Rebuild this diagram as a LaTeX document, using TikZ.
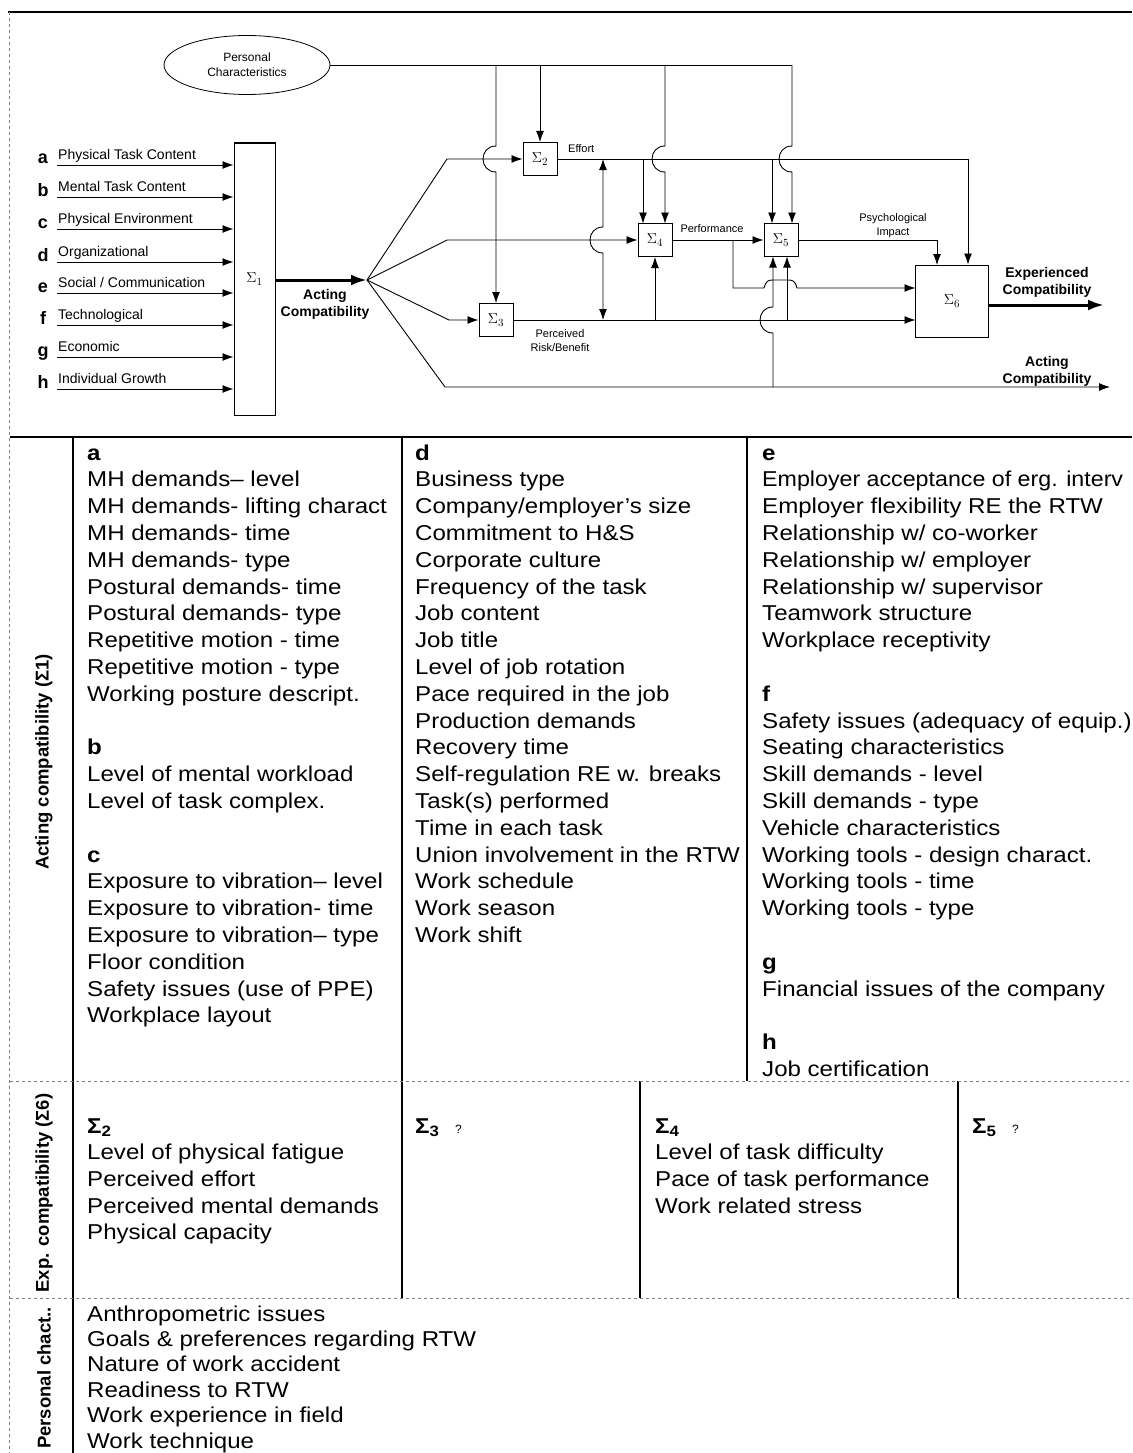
\documentclass[tikz,border=0pt]{standalone}
\usepackage{fontspec}
\setmainfont{Liberation Sans}
\newfontfamily\tabfont[FakeStretch=1.12]{Liberation Sans}
\newfontfamily\tabfontn[FakeStretch=1.08]{Liberation Sans}
\usetikzlibrary{arrows.meta,shapes.geometric}
\newcommand{\socialcom}{Social / Communication}
\begin{document}
\begin{tikzpicture}[x=1pt,y=-1pt,
  every node/.style={inner sep=0pt},
  ln/.style={line width=0.9pt},
  arr/.style={ln,-{Latex[length=11pt,width=8pt]}},
  dblarr/.style={ln,{Latex[length=11pt,width=8pt]}-{Latex[length=11pt,width=8pt]}},
  bigarr/.style={line width=3pt,-{Latex[length=16pt,width=11pt]}},
  sbox/.style={draw,line width=1pt,minimum width=34pt,minimum height=33pt,font=\fontsize{15}{15}\selectfont},
  small/.style={font=\fontsize{11}{14}\selectfont,align=center},
  boldlbl/.style={font=\bfseries\fontsize{14}{17}\selectfont,align=center},
  inlbl/.style={font=\fontsize{14}{14}\selectfont,anchor=base west},
  letter/.style={font=\bfseries\fontsize{18}{18}\selectfont,anchor=base},
  tab/.style={font=\tabfont\fontsize{21.5}{25}\selectfont,anchor=base west},
  rowlbl/.style={font=\bfseries\fontsize{18.5}{18.5}\selectfont,rotate=90},
  rulebk/.style={line width=1.6pt},
  sepln/.style={line width=1pt,gray,dashed},
]
\useasboundingbox (0,0) rectangle (1132,1453);
\fill[white] (0,0) rectangle (1132,1453);

% ---------- frame ----------
\draw[line width=2pt] (8,12) -- (1132,12);
\draw[line width=2pt] (10,437) -- (1132,437);
\draw[line width=0.8pt,gray,dashed] (9,12) -- (9,1453);

% ---------- diagram nodes ----------
\node[draw,ellipse,line width=0.8pt,minimum width=166pt,minimum height=59pt,
      font=\fontsize{12}{15}\selectfont,align=center] (pc) at (247,65) {Personal\\Characteristics};
\node[draw,line width=1pt,minimum width=41pt,minimum height=272pt,font=\fontsize{15}{15}\selectfont] (s1) at (254.5,279) {$\Sigma_1$};
\node[sbox] (s2) at (540,159) {$\Sigma_2$};
\node[sbox] (s3) at (496,320) {$\Sigma_3$};
\node[sbox] (s4) at (655,240) {$\Sigma_4$};
\node[sbox] (s5) at (781,240) {$\Sigma_5$};
\node[draw,line width=1pt,minimum width=73pt,minimum height=72pt,font=\fontsize{15}{15}\selectfont] (s6) at (952,301) {$\Sigma_6$};

% inputs a-h
\foreach \l/\t/\y [count=\i] in {a/Physical Task Content/165, b/Mental Task Content/197,
   c/Physical Environment/229, d/Organizational/262, e/\socialcom/293,
   f/Technological/325, g/Economic/357, h/Individual Growth/389}{
  \coordinate (in\i) at (57,\y);
  \node[letter] (let\i) at (43,\y-1) {\l};
  \node[inlbl] (inl\i) at (58,\y-6) {\t};
  \draw[arr] (in\i) -- (s1.west |- in\i);
}

% coordinates
\coordinate (fan) at (367,280);
\coordinate (f1) at (447,159);
\coordinate (f2) at (447,240);
\coordinate (f3) at (449,320);
\coordinate (f4) at (445,387);
\coordinate (endA) at (1110,387);
\coordinate (eff) at (968,159);
\coordinate (tr) at (792,65);

% Sigma1 output and fan
\draw[bigarr] (s1.east |- fan) -- (fan);
\draw[arr] (fan) -- (f1) -- (s2.west);
\draw[arr] (fan) -- (f2) -- (s4.west);
\draw[arr] (fan) -- (f3) -- (s3.west);
\draw[arr] (fan) -- (f4) -- (endA);

% personal characteristics line and drops
\draw[ln] (pc.east) -- (tr);
\draw[arr] (496,65) -- (496,146) .. controls (478.7,146) and (478.7,172) .. (496,172) -- (s3.north);
\draw[arr] (540,65) -- (s2.north);
\draw[arr] (665,65) -- (665,146) .. controls (647.7,146) and (647.7,172) .. (665,172) -- (665,223.5);
\draw[arr] (tr) -- (792,146) .. controls (774.7,146) and (774.7,172) .. (792,172) -- (792,223.5);

% effort
\draw[ln] (s2.east) -- (eff);
\draw[arr] (eff) -- (eff |- s6.north);
\draw[arr] (643,159) -- (643,223.5);
\draw[arr] (772,159) -- (772,223.5);
\draw[dblarr] (603,159) -- (603,227) .. controls (585.7,227) and (585.7,253) .. (603,253) -- (603,320);

% performance
\draw[arr] (s4.east) -- (s5.west);
\draw[arr] (733,240) -- (733,288) -- (764,288) .. controls (766,281) and (768,280) .. (773,280)
   -- (788,280) .. controls (793,280) and (795,281) .. (797,288) -- (915.5,288);

% risk / benefit
\draw[arr] (s3.east) -- (915.5,320);
\draw[arr] (655,320) -- (s4.south);
\draw[arr] (787,320) -- (787,256.5);
\draw[arr] (773,387) -- (773,333) .. controls (755.7,333) and (755.7,307) .. (773,307) -- (773,256.5);

% psychological impact
\draw[arr] (s5.east) -- (937,240) -- (937,265);

% Sigma6 output
\draw[bigarr] (s6.east |- 0,305) -- (1104,305);

% labels
\node[small,anchor=west] (effl) at (568,149) {Effort};
\node[small] (perfl) at (712,229) {Performance};
\node[small] (psyl) at (893,226) {Psychological\\Impact};
\node[small] (riskl) at (560,341) {Perceived\\Risk/Benefit};
\node[boldlbl] (acl) at (325,304) {Acting\\Compatibility};
\node[boldlbl] (ecl) at (1047,282) {Experienced\\Compatibility};
\node[boldlbl] (acl2) at (1047,371) {Acting\\Compatibility};

% ---------- table rules ----------
\draw[rulebk] (73,437) -- (73,1453);
\draw[rulebk] (402,437) -- (402,1298);
\draw[rulebk] (747,437) -- (747,1081);
\draw[rulebk] (640,1081) -- (640,1298);
\draw[rulebk] (958,1081) -- (958,1298);
\draw[sepln] (10,1081) -- (1132,1081);
\draw[sepln] (10,1298) -- (1132,1298);

% row labels
\node[rowlbl] (rl1) at (44,762) {Acting compatibility (Σ1)};
\node[rowlbl] (rl2) at (44,1193) {Exp. compatibility (Σ6)};
\node[rowlbl] (rl3) at (44,1378) {Personal chact..};

% column a/b/c
\foreach \t [count=\i from 0] in {{\bfseries a},{MH demands– level},{MH demands- lifting charact},
  {MH demands- time},{MH demands- type},{Postural demands- time},{Postural demands- type},
  {Repetitive motion - time},{Repetitive motion - type},{Working posture descript.},{},
  {\bfseries b},{Level of mental workload},{Level of task complex.},{},
  {\bfseries c},{Exposure to vibration– level},{Exposure to vibration- time},
  {Exposure to vibration– type},{Floor condition},{Safety issues (use of PPE)},{Workplace layout}}
  \node[tab] (ta\i) at (87,{460+26.8*\i}) {\t};

% column d
\foreach \t [count=\i from 0] in {{\bfseries d},{Business type},{Company/employer’s size},
  {Commitment to H\&S},{Corporate culture},{Frequency of the task},{Job content},{Job title},
  {Level of job rotation},{Pace required in the job},{Production demands},{Recovery time},
  {Self-regulation RE w. breaks},{Task(s) performed},{Time in each task},
  {Union involvement in the RTW},{Work schedule},{Work season},{Work shift}}
  \node[tab] (td\i) at (415,{460+26.8*\i}) {\t};

% column e/f/g/h
\foreach \t [count=\i from 0] in {{\bfseries e},{\tabfontn Employer acceptance of erg. interv},
  {Employer flexibility RE the RTW},{Relationship w/ co-worker},{Relationship w/ employer},
  {Relationship w/ supervisor},{Teamwork structure},{Workplace receptivity},{},
  {\bfseries f},{Safety issues (adequacy of equip.)},{Seating characteristics},
  {Skill demands - level},{Skill demands - type},{Vehicle characteristics},
  {Working tools - design charact.},{Working tools - time},{Working tools - type},{},
  {\bfseries g},{Financial issues of the company},{},{\bfseries h},{Job certification}}
  \node[tab] (te\i) at (762,{460+26.8*\i}) {\t};

% row 2
\node[tab] (x2h) at (87,1133) {\bfseries Σ\textsubscript{2}};
\foreach \t [count=\i] in {{Level of physical fatigue},{Perceived effort},
  {Perceived mental demands},{Physical capacity}}
  \node[tab] (x2\i) at (87,{1133+26.7*\i}) {\t};
\node[tab] (x3h) at (415,1133) {\bfseries Σ\textsubscript{3}};
\node[font=\fontsize{12}{12}\selectfont,anchor=base west] (q3) at (455,1133) {?};
\node[tab] (x4h) at (655,1133) {\bfseries Σ\textsubscript{4}};
\foreach \t [count=\i] in {{Level of task difficulty},{Pace of task performance},{Work related stress}}
  \node[tab] (x4\i) at (655,{1133+26.7*\i}) {\t};
\node[tab] (x5h) at (972,1133) {\bfseries Σ\textsubscript{5}};
\node[font=\fontsize{12}{12}\selectfont,anchor=base west] (q5) at (1012,1133) {?};

% row 3
\foreach \t [count=\i from 0] in {{Anthropometric issues},{Goals \& preferences regarding RTW},
  {Nature of work accident},{Readiness to RTW},{Work experience in field},{Work technique}}
  \node[tab] (p\i) at (87,{1321+25.4*\i}) {\t};
\end{tikzpicture}
\end{document}
